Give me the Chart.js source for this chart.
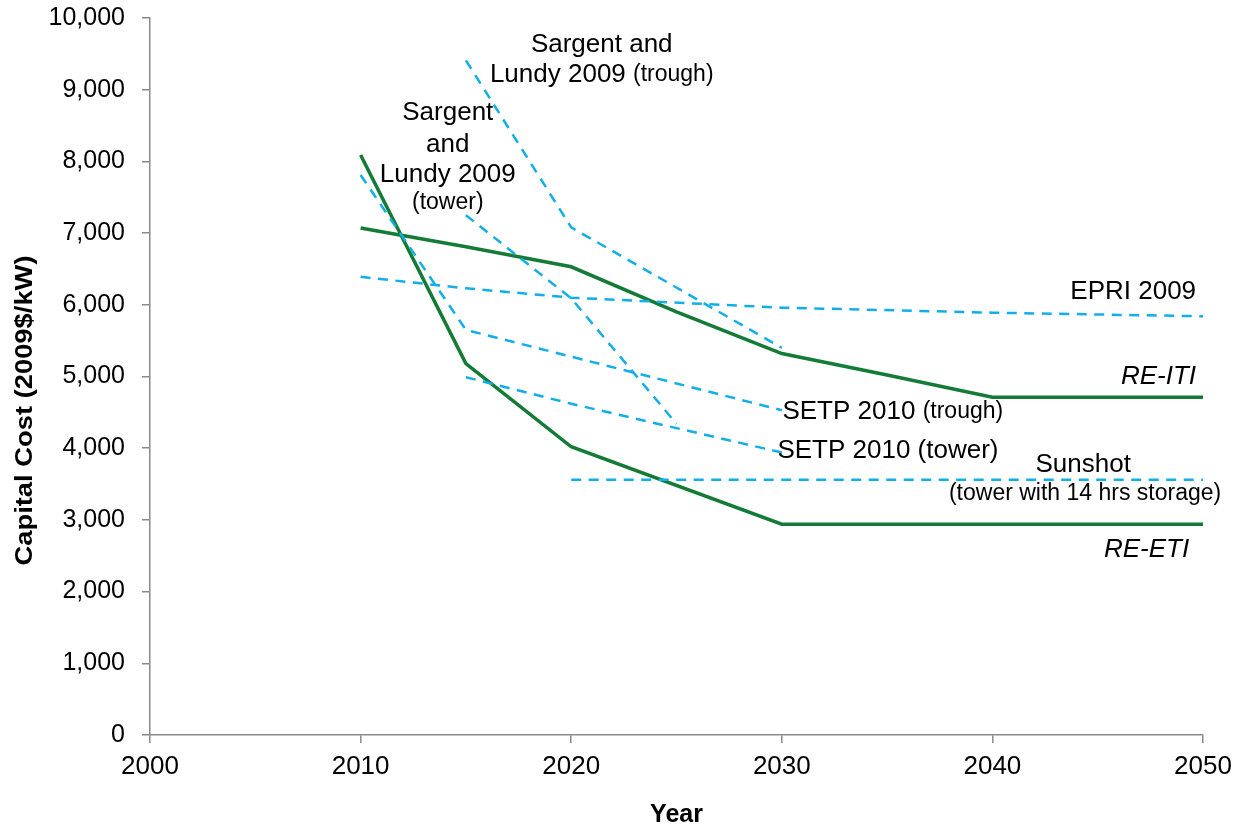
<!DOCTYPE html>
<html>
<head>
<meta charset="utf-8">
<script src="https://cdn.jsdelivr.net/npm/chart.js@4.4.1/dist/chart.umd.min.js"></script>
<style>
  html, body { margin: 0; padding: 0; background: #fff; }
  #wrap { width: 1244px; height: 830px; }
</style>
</head>
<body>
<div id="wrap"><canvas id="chart" width="1244" height="830"></canvas></div>
<script>
// axis ranges
const yearMin = 2000
const yearMax = 2050
const yearStep = 10
const costMax = 10000
const costStep = 1000

// model pathways (solid green)
const etiYears = [2010, 2015, 2020, 2030, 2040, 2050]
const etiCost  = [8090, 5180, 4020, 2940, 2940, 2940]

const itiYears = [2010, 2015, 2020, 2025, 2030, 2035, 2040, 2050]
const itiCost  = [7070, 6810, 6530, 5900, 5320, 5020, 4710, 4710]

// literature estimates (dashed blue)
const slTroughYears = [2015, 2020, 2030]
const slTroughCost  = [9410, 7080, 5400]

const slTowerYears = [2015, 2020, 2025]
const slTowerCost  = [7250, 6090, 4340]

const setpTroughYears = [2010, 2015, 2030]
const setpTroughCost  = [7810, 5650, 4530]

const setpTowerYears = [2015, 2020, 2030]
const setpTowerCost  = [4990, 4620, 3940]

const epriYears = [2010, 2015, 2020, 2030, 2040, 2050]
const epriCost  = [6390, 6230, 6100, 5960, 5890, 5840]

const sunshotYears = [2020, 2050]
const sunshotCost  = [3560, 3560]

const GREEN = '#137b35'
const BLUE  = '#12aee8'
const AXIS  = '#8a8a8a'
const FONT  = "'Liberation Sans', Arial, sans-serif"

// text labels on the plot: [year, cost, align, italic, runs[[text, size]]]
const notes = [
  [2021.45, 9623, 'center', false, [['Sargent and', 26]]],
  [2021.45, 9205, 'center', false, [['Lundy 2009 ', 26], ['(trough)', 23]]],
  [2014.14, 8675, 'center', false, [['Sargent', 26]]],
  [2014.14, 8229, 'center', false, [['and', 26]]],
  [2014.14, 7810, 'center', false, [['Lundy 2009', 26]]],
  [2014.14, 7420, 'center', false, [['(tower)', 23]]],
  [2049.67, 6179, 'right',  false, [['EPRI 2009', 26]]],
  [2049.67, 4993, 'right',  true,  [['RE-ITI', 26]]],
  [2030.03, 4505, 'left',   false, [['SETP 2010 ', 26], ['(trough)', 23]]],
  [2029.79, 3961, 'left',   false, [['SETP 2010 (tower)', 26]]],
  [2044.31, 3766, 'center', false, [['Sunshot', 26]]],
  [2044.40, 3361, 'center', false, [['(tower with 14 hrs storage)', 23]]],
  [2049.34, 2580, 'right',  true,  [['RE-ETI', 26]]],
]

function pts(xs, ys) {
  return xs.map((x, i) => ({ x, y: ys[i] }))
}

function solid(label, xs, ys) {
  return { label, data: pts(xs, ys), borderColor: GREEN, borderWidth: 3.5,
           pointRadius: 0, tension: 0, fill: false }
}

function dashed(label, xs, ys) {
  return { label, data: pts(xs, ys), borderColor: BLUE, borderWidth: 2.5,
           borderDash: [10, 7.5], pointRadius: 0, tension: 0, fill: false }
}

const notesPlugin = {
  id: 'notes',
  afterDatasetsDraw(chart) {
    const { ctx, scales: { x, y } } = chart
    ctx.save()
    ctx.fillStyle = '#000'
    ctx.textBaseline = 'middle'
    ctx.textAlign = 'left'
    notes.forEach(([yr, val, align, italic, runs]) => {
      const px = x.getPixelForValue(yr)
      const py = y.getPixelForValue(val)
      const fontOf = s => (italic ? 'italic ' : '') + s + 'px ' + FONT
      let total = 0
      runs.forEach(([t, s]) => { ctx.font = fontOf(s); total += ctx.measureText(t).width })
      let cx = align === 'center' ? px - total / 2 : align === 'right' ? px - total : px
      runs.forEach(([t, s]) => {
        ctx.font = fontOf(s)
        ctx.fillText(t, cx, py)
        cx += ctx.measureText(t).width
      })
    })
    ctx.restore()
  }
}

// rotated y title, narrow like the original
const yTitlePlugin = {
  id: 'yTitle',
  afterDraw(chart) {
    const { ctx, chartArea } = chart
    const text = 'Capital Cost (2009$/kW)'
    ctx.save()
    ctx.font = 'bold 24px ' + FONT
    const w = ctx.measureText(text).width
    ctx.translate(25, (chartArea.top + chartArea.bottom) / 2 + 34)
    ctx.rotate(-Math.PI / 2)
    ctx.scale(310 / w, 1)
    ctx.fillStyle = '#000'
    ctx.textAlign = 'center'
    ctx.textBaseline = 'middle'
    ctx.fillText(text, 0, 0)
    ctx.restore()
  }
}

new Chart(document.getElementById('chart'), {
  type: 'line',
  data: {
    datasets: [
      dashed('Sargent and Lundy 2009 (trough)', slTroughYears, slTroughCost),
      dashed('Sargent and Lundy 2009 (tower)', slTowerYears, slTowerCost),
      dashed('SETP 2010 (trough)', setpTroughYears, setpTroughCost),
      dashed('SETP 2010 (tower)', setpTowerYears, setpTowerCost),
      dashed('EPRI 2009', epriYears, epriCost),
      dashed('Sunshot', sunshotYears, sunshotCost),
      solid('RE-ITI', itiYears, itiCost),
      solid('RE-ETI', etiYears, etiCost),
    ],
  },
  options: {
    responsive: false,
    animation: false,
    devicePixelRatio: 1,
    layout: { padding: { top: 18, right: 41, left: 0, bottom: 0 } },
    plugins: { legend: { display: false }, tooltip: { enabled: false } },
    scales: {
      x: {
        type: 'linear', min: yearMin, max: yearMax,
        afterFit: s => { s.height = 95; s.paddingLeft = 0; s.paddingRight = 0 },
        border: { display: true, color: AXIS, width: 1.5 },
        grid: { drawOnChartArea: false, drawTicks: true, tickLength: 8, color: AXIS, lineWidth: 1.5 },
        ticks: { stepSize: yearStep, maxRotation: 0, autoSkip: false, padding: 8,
                 color: '#000', font: { family: FONT, size: 26 },
                 callback: v => String(v) },
        title: { display: true, text: 'Year', color: '#000', padding: { top: 0, bottom: 0 },
                 font: { family: FONT, size: 25, weight: 'bold' } },
      },
      y: {
        min: 0, max: costMax,
        afterFit: s => { s.width = 150; s.paddingTop = 0; s.paddingBottom = 0 },
        border: { display: true, color: AXIS, width: 1.5 },
        grid: { drawOnChartArea: false, drawTicks: true, tickLength: 8, color: AXIS, lineWidth: 1.5 },
        ticks: { stepSize: costStep, padding: 17, color: '#000',
                 font: { family: FONT, size: 25 },
                 callback: v => v.toLocaleString('en-US') },
      },
    },
  },
  plugins: [notesPlugin, yTitlePlugin],
})
</script>
</body>
</html>
